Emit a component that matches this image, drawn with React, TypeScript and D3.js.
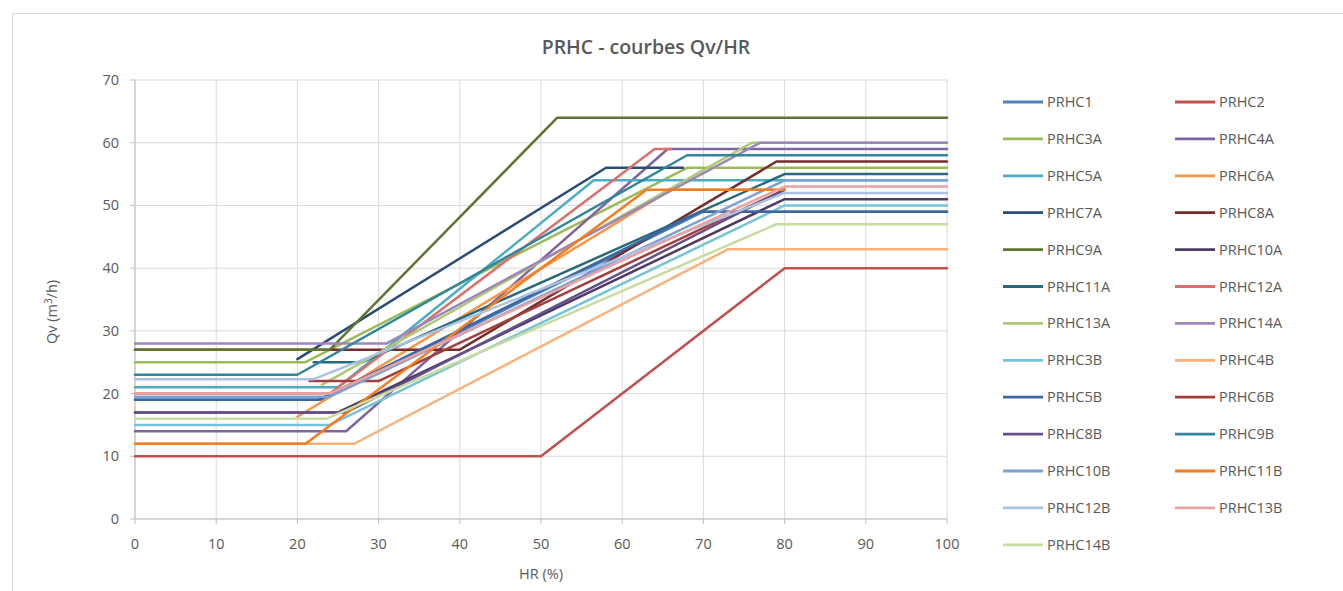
import React from "react";
import * as d3 from "d3";

type Pt = [number, number];

const seriesNames = [
  "PRHC1", "PRHC2", "PRHC3A", "PRHC4A", "PRHC5A", "PRHC6A", "PRHC7A", "PRHC8A", "PRHC9A",
  "PRHC10A", "PRHC11A", "PRHC12A", "PRHC13A", "PRHC14A", "PRHC3B", "PRHC4B", "PRHC5B",
  "PRHC6B", "PRHC8B", "PRHC9B", "PRHC10B", "PRHC11B", "PRHC12B", "PRHC13B", "PRHC14B",
];

const seriesColors = [
  "#4F81BD", "#C0504D", "#9BBB59", "#8064A2", "#4BACC6", "#F79646", "#2C4D75", "#772C2A", "#5F7530",
  "#4D3B62", "#276A7C", "#D9706C", "#AECB73", "#9C86BA", "#74C3D8", "#F9B17A", "#3A67A0",
  "#A23F3C", "#66508A", "#31869B", "#7DA0D6", "#F57C1F", "#A9C2E4", "#E6A3A1", "#C8DCA2",
];

const PRHC1: Pt[] = [[0, 19], [23, 19], [70, 49], [100, 49]];
const PRHC2: Pt[] = [[0, 10], [50, 10], [80, 40], [100, 40]];
const PRHC3A: Pt[] = [[0, 25], [21, 25], [68, 56], [100, 56]];
const PRHC4A: Pt[] = [[0, 14], [26, 14], [65.6, 59], [100, 59]];
const PRHC5A: Pt[] = [[0, 21], [25, 21], [56.5, 54], [100, 54]];
const PRHC6A: Pt[] = [[20, 16.3], [66, 52.5], [80, 52.5]];
const PRHC7A: Pt[] = [[20, 25.5], [58, 56], [67.5, 56]];
const PRHC8A: Pt[] = [[0, 27], [40, 27], [79, 57], [100, 57]];
const PRHC9A: Pt[] = [[0, 27], [24, 27], [52, 64], [100, 64]];
const PRHC10A: Pt[] = [[0, 17], [25, 17], [80, 51], [100, 51]];
const PRHC11A: Pt[] = [[22, 25], [28, 25], [80, 55], [100, 55]];
const PRHC12A: Pt[] = [[0, 20], [24, 20], [64, 59], [66, 59]];
const PRHC13A: Pt[] = [[23, 21.4], [76, 60], [100, 60]];
const PRHC14A: Pt[] = [[0, 28], [31, 28], [77, 60], [100, 60]];
const PRHC3B: Pt[] = [[0, 15], [24, 15], [80, 50], [100, 50]];
const PRHC4B: Pt[] = [[0, 12], [27, 12], [73, 43], [100, 43]];
const PRHC5B: Pt[] = [[0, 19], [22.6, 19], [69.6, 49], [100, 49]];
const PRHC6B: Pt[] = [[21.5, 22], [30, 22], [80, 52.5]];
const PRHC8B: Pt[] = [[0, 17], [26, 17], [80, 52.5]];
const PRHC9B: Pt[] = [[0, 23], [20, 23], [68, 58], [100, 58]];
const PRHC10B: Pt[] = [[0, 19.5], [24, 19.5], [80, 54], [100, 54]];
const PRHC11B: Pt[] = [[0, 12], [21, 12], [63, 52.5], [80, 52.5]];
const PRHC12B: Pt[] = [[0, 22.3], [22, 22.3], [80, 52], [100, 52]];
const PRHC13B: Pt[] = [[0, 20], [24, 20], [80, 53], [100, 53]];
const PRHC14B: Pt[] = [[0, 16], [23.6, 16], [79, 47], [100, 47]];

const seriesData: Pt[][] = [
  PRHC1, PRHC2, PRHC3A, PRHC4A, PRHC5A, PRHC6A, PRHC7A, PRHC8A, PRHC9A, PRHC10A, PRHC11A,
  PRHC12A, PRHC13A, PRHC14A, PRHC3B, PRHC4B, PRHC5B, PRHC6B, PRHC8B, PRHC9B, PRHC10B,
  PRHC11B, PRHC12B, PRHC13B, PRHC14B,
];

const xTicks = [0, 10, 20, 30, 40, 50, 60, 70, 80, 90, 100];
const yTicks = [0, 10, 20, 30, 40, 50, 60, 70];

const FONT = "'Open Sans', 'Liberation Sans', sans-serif";
const TXT = "#595959";

export default function App() {
  const W = 1343, H = 591;
  const left = 135, right = 947, top = 80, bottom = 519;
  const x = d3.scaleLinear().domain([0, 100]).range([left, right]);
  const y = d3.scaleLinear().domain([0, 70]).range([bottom, top]);
  const line = d3.line<Pt>().x((d) => x(d[0])).y((d) => y(d[1]));

  const legX = [1003, 1175];
  const legY0 = 102, legDy = 36.9;

  return (
    <svg width={W} height={H} style={{ position: "absolute", left: 0, top: 0, background: "#fff" }}>
      <rect x={12.5} y={13.5} width={1340} height={590} fill="#fff" stroke="#D9D9D9" strokeWidth={1} />
      <text x={646} y={54} textAnchor="middle" fontFamily={FONT} fontSize={19.5} fontWeight={600} fill={TXT}>
        PRHC - courbes Qv/HR
      </text>
      {xTicks.map((t) => (
        <line key={"gx" + t} x1={x(t)} x2={x(t)} y1={top} y2={bottom} stroke="#D9D9D9" strokeWidth={1} />
      ))}
      {yTicks.map((t) => (
        <line key={"gy" + t} x1={left} x2={right} y1={y(t)} y2={y(t)} stroke="#D9D9D9" strokeWidth={1} />
      ))}
      <line x1={left} x2={left} y1={top} y2={bottom} stroke="#BFBFBF" />
      <line x1={left} x2={right} y1={bottom} y2={bottom} stroke="#BFBFBF" />
      {yTicks.map((t) => (
        <line key={"ty" + t} x1={left - 5} x2={left} y1={y(t)} y2={y(t)} stroke="#BFBFBF" />
      ))}
      {xTicks.map((t) => (
        <line key={"tx" + t} x1={x(t)} x2={x(t)} y1={bottom} y2={bottom + 5} stroke="#BFBFBF" />
      ))}
      {yTicks.map((t) => (
        <text key={"ly" + t} x={left - 16} y={y(t) + 5} textAnchor="end" fontFamily={FONT} fontSize={14.5} fill={TXT}>
          {t}
        </text>
      ))}
      {xTicks.map((t) => (
        <text key={"lx" + t} x={x(t)} y={bottom + 30} textAnchor="middle" fontFamily={FONT} fontSize={14.5} fill={TXT}>
          {t}
        </text>
      ))}
      <text x={541} y={579} textAnchor="middle" fontFamily={FONT} fontSize={14.5} fill={TXT}>HR (%)</text>
      <text transform={`translate(57,312) rotate(-90)`} textAnchor="middle" fontFamily={FONT} fontSize={14.5} fill={TXT}>
        Qv (m<tspan fontSize={10} dy={-5}>3</tspan><tspan dy={5}>/h)</tspan>
      </text>
      <g fill="none" strokeLinejoin="round" strokeLinecap="round">
        {seriesData.map((d, i) => (
          <path key={seriesNames[i]} d={line(d) || ""} stroke={seriesColors[i]} strokeWidth={2.5} />
        ))}
      </g>
      {seriesNames.map((n, i) => {
        const col = i % 2;
        const row = Math.floor(i / 2);
        const lx = legX[col];
        const ly = legY0 + row * legDy;
        return (
          <g key={"leg" + n}>
            <line x1={lx} x2={lx + 40} y1={ly} y2={ly} stroke={seriesColors[i]} strokeWidth={2.8} />
            <text x={lx + 44} y={ly + 5} fontFamily={FONT} fontSize={14.5} fill={TXT}>{n}</text>
          </g>
        );
      })}
    </svg>
  );
}
